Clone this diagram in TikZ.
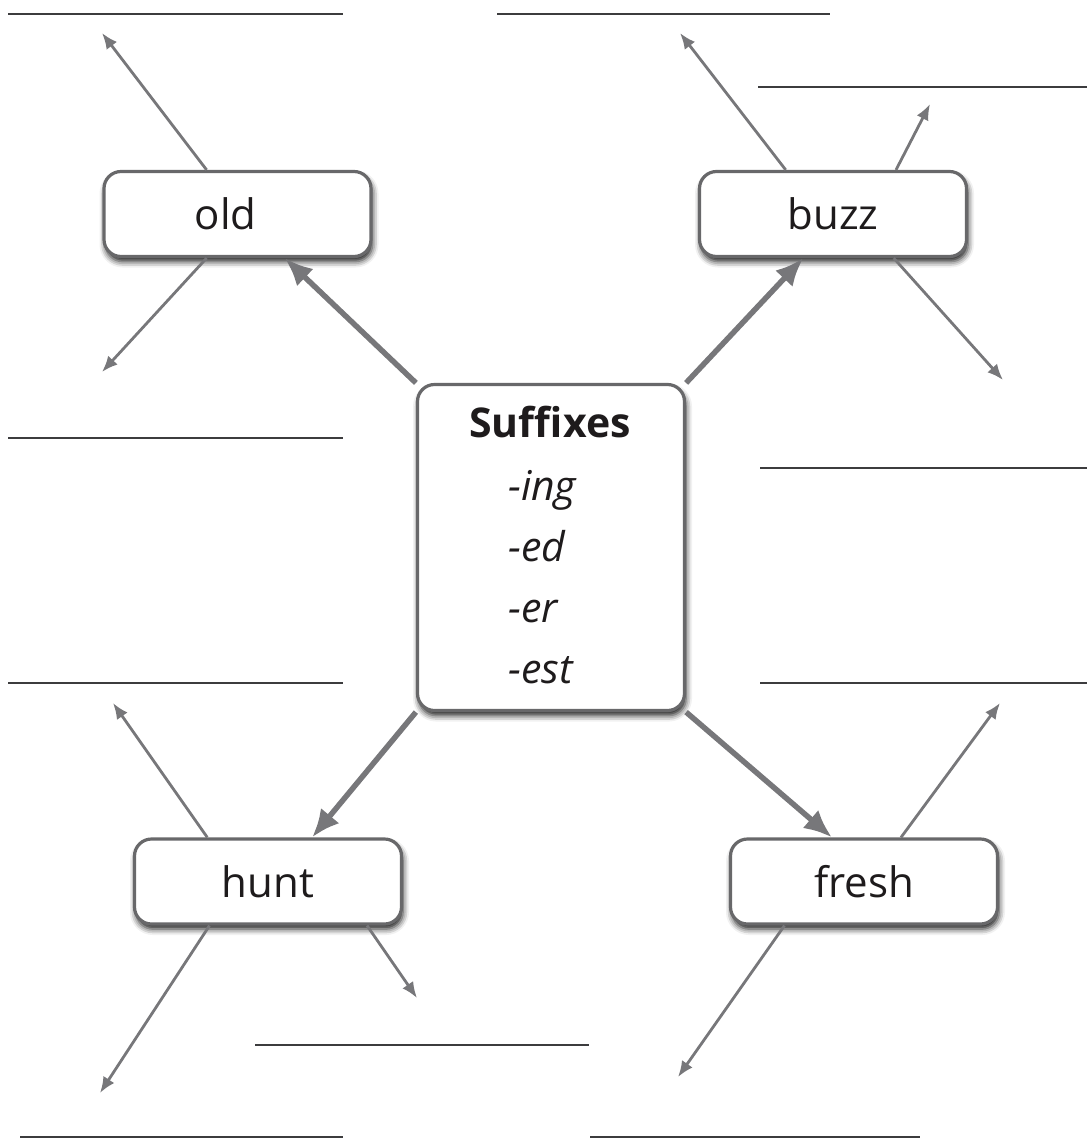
\documentclass[tikz,border=0pt]{standalone}
\usepackage{fontspec}
\setmainfont{Open Sans}
\usetikzlibrary{arrows.meta,shadows.blur}
\definecolor{arrowgray}{HTML}{77777A}
\definecolor{boxgray}{HTML}{68686A}
\definecolor{blankline}{HTML}{3C3C3E}
\definecolor{txt}{HTML}{1E1B1C}
\tikzset{
  wordbox/.style={draw=boxgray, line width=3.2pt, fill=white, rounded corners=17pt,
    minimum width=267pt, minimum height=85pt, inner sep=0pt, text=txt,
    font=\fontsize{42}{50}\selectfont,
    blur shadow={shadow xshift=1.5pt, shadow yshift=-5pt, shadow blur radius=6pt, shadow opacity=90}},
  thinarrow/.style={draw=arrowgray, line width=2.8pt, -{Latex[length=16pt,width=13pt]}},
  thickarrow/.style={draw=arrowgray, line width=5.5pt, -{Latex[length=28pt,width=24pt]}},
  blank/.style={draw=blankline, line width=2.6pt},
  suffix/.style={anchor=base west, inner sep=0pt, text=txt, font=\fontsize{41}{50}\selectfont\itshape},
}
\begin{document}
\begin{tikzpicture}[x=1pt,y=-1pt]
\useasboundingbox (0,0) rectangle (1087,1141);

% blank answer lines
\draw[blank] (8,14) -- (343,14);
\draw[blank] (497,14) -- (830,14);
\draw[blank] (758,87) -- (1087,87);
\draw[blank] (8,438) -- (343,438);
\draw[blank] (760,468) -- (1087,468);
\draw[blank] (8,683) -- (343,683);
\draw[blank] (760,683) -- (1087,683);
\draw[blank] (255,1045) -- (589,1045);
\draw[blank] (20,1137) -- (343,1137);
\draw[blank] (590,1137) -- (920,1137);

% boxes
\node[wordbox] (old) at (237.5,214) {old\hspace*{24pt}};
\node[wordbox] (buzz) at (833,214) {buzz};
\node[wordbox] (hunt) at (268,881.5) {hunt};
\node[wordbox] (fresh) at (864,881.5) {fresh};
\node[wordbox, minimum width=267pt, minimum height=326pt] (center) at (551,547.5) {};

% center text
\node[anchor=base, inner sep=0pt, text=txt, font=\fontsize{41}{50}\selectfont\bfseries] (title) at (550,437) {Suffixes};
\node[suffix] (s1) at (508,500) {-ing};
\node[suffix] (s2) at (508,561) {-ed};
\node[suffix] (s3) at (508,622) {-er};
\node[suffix] (s4) at (508,683) {-est};

% free ends
\coordinate (o1) at (102,33);
\coordinate (o2) at (102,372);
\coordinate (b1) at (680,33);
\coordinate (b2) at (930,104);
\coordinate (b3) at (1003,380);
\coordinate (h1) at (113,703);
\coordinate (h2) at (100,1093);
\coordinate (h3) at (417,998);
\coordinate (f1) at (1000,703);
\coordinate (f2) at (678,1077);

% thick arrows
\draw[thickarrow] (center.north west) -- (old.-43);
\draw[thickarrow] (center.north east) -- (buzz.-124);
\draw[thickarrow] (center.south west) -- (hunt.45);
\draw[thickarrow] (center.south east) -- (fresh.126);

% thin arrows
\draw[thinarrow] (old.125) -- (o1);
\draw[thinarrow] (old.235) -- (o2);
\draw[thinarrow] (buzz.137) -- (b1);
\draw[thinarrow] (buzz.35) -- (b2);
\draw[thinarrow] (buzz.-36) -- (b3);
\draw[thinarrow] (hunt.144) -- (h1);
\draw[thinarrow] (hunt.217) -- (h2);
\draw[thinarrow] (hunt.-24) -- (h3);
\draw[thinarrow] (fresh.50) -- (f1);
\draw[thinarrow] (fresh.209) -- (f2);
\end{tikzpicture}
\end{document}
